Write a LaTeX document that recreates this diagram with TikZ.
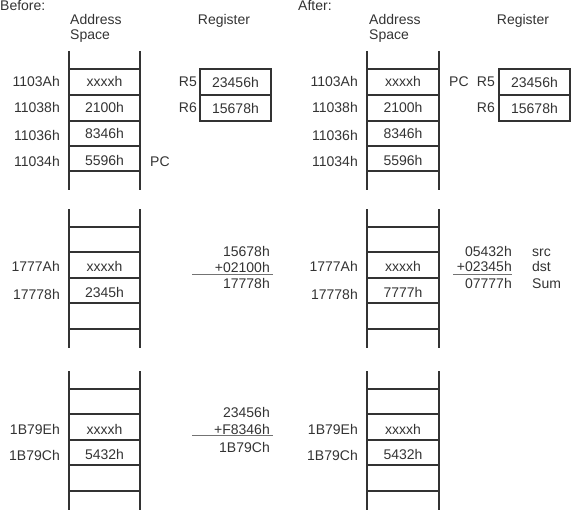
\documentclass[tikz,border=0pt]{standalone}
\usepackage{fontspec}
\setmainfont{Liberation Sans}
\definecolor{ink}{HTML}{333333}

\begin{document}
\begin{tikzpicture}[x=1pt,y=-1pt,font=\fontsize{14}{16}\selectfont,text=ink,
  lbl/.style={inner sep=0pt},
  ladder/.style={draw=ink,line width=1.6pt},
  regbox/.style={draw=ink,line width=1.6pt,minimum width=71pt,minimum height=26pt,inner sep=0pt},
  sumline/.style={draw=black!55,line width=.8pt}]
\useasboundingbox (0,0) rectangle (571,511);
% before
\node[lbl,anchor=base west] (before) at (0,11) {Before:};
\node[lbl,anchor=base west] (bAddr) at (70,25) {Address};
\node[lbl,anchor=base west] (bSpace) at (70,40) {Space};
\node[lbl,anchor=base] (bReg) at (224,25) {Register};
\draw[ladder] (69,51) -- (69,190) (140,51) -- (140,190) (69,69) -- (140,69) (69,95) -- (140,95) (69,121) -- (140,121) (69,146) -- (140,146) (69,171) -- (140,171);
\node[lbl,anchor=base east] (bA1) at (60,87) {1103Ah};
\node[lbl,anchor=base] (bC1) at (104.5,87) {xxxxh};
\node[lbl,anchor=base east] (bA2) at (60,113) {11038h};
\node[lbl,anchor=base] (bC2) at (104.5,113) {2100h};
\node[lbl,anchor=base east] (bA3) at (60,141) {11036h};
\node[lbl,anchor=base] (bC3) at (104.5,139) {8346h};
\node[lbl,anchor=base east] (bA4) at (60,167) {11034h};
\node[lbl,anchor=base] (bC4) at (104.5,165) {5596h};
\node[lbl,anchor=base west] (bPC) at (150,166) {PC};
\node[regbox] (bR5) at (235.5,82) {23456h};
\node[regbox] (bR6) at (235.5,108) {15678h};
\node[lbl,anchor=base east] (bR5name) at (197,87) {R5};
\node[lbl,anchor=base east] (bR6name) at (197,113) {R6};
\draw[ladder] (69,209) -- (69,348) (140,209) -- (140,348) (69,227) -- (140,227) (69,252) -- (140,252) (69,278) -- (140,278) (69,303) -- (140,303) (69,329) -- (140,329);
\node[lbl,anchor=base east] (bA5) at (60,271) {1777Ah};
\node[lbl,anchor=base] (bC5) at (104.5,271) {xxxxh};
\node[lbl,anchor=base east] (bA6) at (60,299) {17778h};
\node[lbl,anchor=base] (bC6) at (104.5,297) {2345h};
\node[lbl,anchor=base east] (bS1) at (270,256) {15678h};
\node[lbl,anchor=base east] (bS2) at (270,272) {+02100h};
\draw[sumline] (192,274.5) -- (273,274.5);
\node[lbl,anchor=base east] (bS3) at (270,288) {17778h};
\draw[ladder] (69,371) -- (69,510) (140,371) -- (140,510) (69,389) -- (140,389) (69,414) -- (140,414) (69,440) -- (140,440) (69,465) -- (140,465) (69,491) -- (140,491);
\node[lbl,anchor=base east] (bA7) at (60,434) {1B79Eh};
\node[lbl,anchor=base] (bC7) at (104.5,434) {xxxxh};
\node[lbl,anchor=base east] (bA8) at (60,460) {1B79Ch};
\node[lbl,anchor=base] (bC8) at (104.5,459) {5432h};
\node[lbl,anchor=base east] (bS4) at (270,417) {23456h};
\node[lbl,anchor=base east] (bS5) at (270,434) {+F8346h};
\draw[sumline] (192,435.5) -- (273,435.5);
\node[lbl,anchor=base east] (bS6) at (270,452) {1B79Ch};
% after
\node[lbl,anchor=base west] (after) at (298,11) {After:};
\node[lbl,anchor=base west] (aAddr) at (369,25) {Address};
\node[lbl,anchor=base west] (aSpace) at (369,40) {Space};
\node[lbl,anchor=base] (aReg) at (523,25) {Register};
\draw[ladder] (367,51) -- (367,190) (439,51) -- (439,190) (367,69) -- (439,69) (367,95) -- (439,95) (367,121) -- (439,121) (367,146) -- (439,146) (367,171) -- (439,171);
\node[lbl,anchor=base east] (aA1) at (358,87) {1103Ah};
\node[lbl,anchor=base] (aC1) at (403,87) {xxxxh};
\node[lbl,anchor=base east] (aA2) at (358,113) {11038h};
\node[lbl,anchor=base] (aC2) at (403,113) {2100h};
\node[lbl,anchor=base east] (aA3) at (358,141) {11036h};
\node[lbl,anchor=base] (aC3) at (403,139) {8346h};
\node[lbl,anchor=base east] (aA4) at (358,167) {11034h};
\node[lbl,anchor=base] (aC4) at (403,165) {5596h};
\node[lbl,anchor=base west] (aPC) at (449,87) {PC};
\node[regbox] (aR5) at (534.5,82) {23456h};
\node[regbox] (aR6) at (534.5,108) {15678h};
\node[lbl,anchor=base east] (aR5name) at (495,87) {R5};
\node[lbl,anchor=base east] (aR6name) at (495,113) {R6};
\draw[ladder] (367,209) -- (367,348) (439,209) -- (439,348) (367,227) -- (439,227) (367,252) -- (439,252) (367,278) -- (439,278) (367,303) -- (439,303) (367,329) -- (439,329);
\node[lbl,anchor=base east] (aA5) at (358,271) {1777Ah};
\node[lbl,anchor=base] (aC5) at (403,271) {xxxxh};
\node[lbl,anchor=base east] (aA6) at (358,299) {17778h};
\node[lbl,anchor=base] (aC6) at (403,297) {7777h};
\node[lbl,anchor=base east] (aS1) at (512,256) {05432h};
\node[lbl,anchor=base west] (aSrc) at (532,256) {src};
\node[lbl,anchor=base east] (aS2) at (512,271) {+02345h};
\node[lbl,anchor=base west] (aDst) at (532,271) {dst};
\draw[sumline] (453,274) -- (512,274);
\node[lbl,anchor=base east] (aS3) at (512,288) {07777h};
\node[lbl,anchor=base west] (aSum) at (532,288) {Sum};
\draw[ladder] (367,371) -- (367,510) (439,371) -- (439,510) (367,389) -- (439,389) (367,414) -- (439,414) (367,440) -- (439,440) (367,465) -- (439,465) (367,491) -- (439,491);
\node[lbl,anchor=base east] (aA7) at (358,434) {1B79Eh};
\node[lbl,anchor=base] (aC7) at (403,434) {xxxxh};
\node[lbl,anchor=base east] (aA8) at (358,460) {1B79Ch};
\node[lbl,anchor=base] (aC8) at (403,459) {5432h};
\end{tikzpicture}
\end{document}
